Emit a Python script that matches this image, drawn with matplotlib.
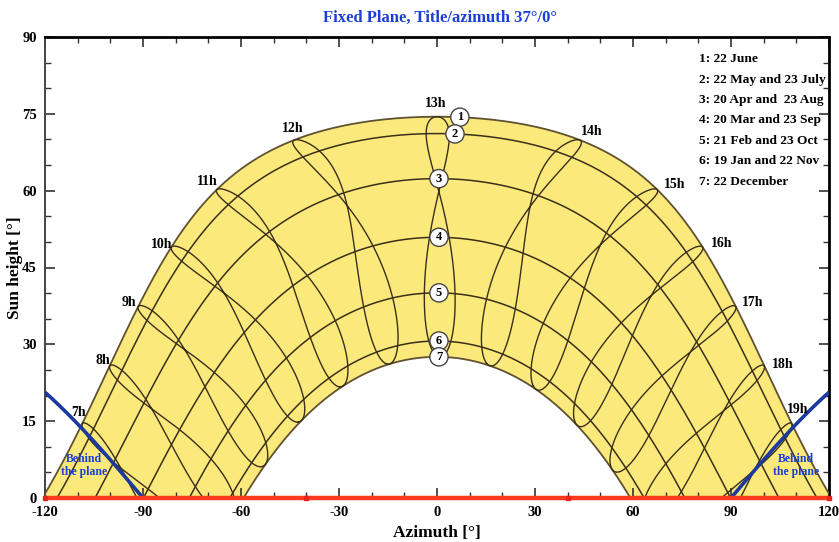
import numpy as np
import matplotlib
matplotlib.use("Agg")
import matplotlib.pyplot as plt

plt.rcParams["axes.unicode_minus"] = False

# Site and plane
LATITUDE = 39.0          # deg N
PLANE_TILT = 37.0        # deg
PLANE_AZIMUTH = 0.0      # deg from south
CLOCK_SHIFT_H = 0.97     # clock time minus local mean solar time, hours

# Dates of the sun paths (in calendar order)
DATES = ["19 Jan", "21 Feb", "20 Mar", "20 Apr", "22 May", "22 June",
         "23 July", "23 Aug", "23 Sep", "23 Oct", "22 Nov", "22 December"]
DAY_OF_YEAR = [19, 52, 79, 110, 142, 173, 204, 235, 266, 296, 326, 356]
DECLINATION = [-20.6, -10.6, -0.1, 11.5, 20.3, 23.44,
               20.0, 11.2, -0.1, -11.3, -20.1, -23.44]
EQ_OF_TIME_MIN = [-10.6, -13.8, -7.6, 1.1, 3.3, -1.8,
                  -6.4, -2.6, 7.6, 15.6, 14.0, 1.7]
CURVE_NO = [6, 5, 4, 3, 2, 1, 2, 3, 4, 5, 6, 7]

HOURS = list(range(7, 20))
LEGEND_LINES = ["1: 22 June", "2: 22 May and 23 July", "3: 20 Apr and  23 Aug",
                "4: 20 Mar and 23 Sep", "5: 21 Feb and 23 Oct",
                "6: 19 Jan and 22 Nov", "7: 22 December"]

X_TICKS = [-120, -90, -60, -30, 0, 30, 60, 90, 120]
Y_TICKS = [0, 15, 30, 45, 60, 75, 90]

SERIF = "Liberation Serif"
FILL = "#fce97c"
INK = "#3a2f18"
BLUE = "#1a3fd6"


def sun_position(decl, hour_angle):
    phi = np.radians(LATITUDE)
    d = np.radians(decl)
    h = np.radians(hour_angle)
    alt = np.degrees(np.arcsin(np.sin(phi) * np.sin(d)
                               + np.cos(phi) * np.cos(d) * np.cos(h)))
    az = np.degrees(np.arctan2(np.sin(h),
                               np.cos(h) * np.sin(phi) - np.tan(d) * np.cos(phi)))
    return az, alt


def hour_angle(clock_hour, eot_min):
    return 15.0 * (clock_hour - CLOCK_SHIFT_H + np.asarray(eot_min) / 60.0 - 12.0)


def day_path(decl):
    phi = np.radians(LATITUDE)
    h0 = np.degrees(np.arccos(-np.tan(phi) * np.tan(np.radians(decl))))
    return sun_position(decl, np.linspace(-h0, h0, 800))


def periodic_basis(day):
    w = 2 * np.pi * np.asarray(day, float) / 365.0
    cols = [np.ones_like(w)]
    for k in range(1, 6):
        cols += [np.cos(k * w), np.sin(k * w)]
    cols.append(np.cos(6 * w))
    return np.column_stack(cols)


def smooth_year(values, day_fine):
    coef = np.linalg.solve(periodic_basis(DAY_OF_YEAR), np.asarray(values, float))
    return periodic_basis(day_fine) @ coef


decl = np.array(DECLINATION)
eot = np.array(EQ_OF_TIME_MIN)
curve_no = np.array(CURVE_NO)
levels = sorted(set(CURVE_NO))
level_decl = {k: decl[curve_no == k].mean() for k in levels}

fig = plt.figure(figsize=(8.39, 5.42), dpi=100)
ax = fig.add_axes([45 / 839, 1 - 498 / 542, (829 - 45) / 839, (498 - 37) / 542])

# Band between the summer and winter solstice paths
ja, jh = day_path(level_decl[1])
da, dh = day_path(level_decl[7])
ax.fill(np.r_[ja, da[::-1]], np.r_[jh, dh[::-1]], color=FILL, lw=0, zorder=1)

# Daily sun paths
for k in levels:
    a, h = day_path(level_decl[k])
    edge = k in (1, 7)
    ax.plot(a, h, color="#5f5230" if edge else INK, lw=1.3 if edge else 1.1, zorder=3)

# Hour lines (analemmas): a closed smooth path through the dates of the year
day_fine = np.linspace(0, 365, 731)
path_decl = np.clip(smooth_year(decl, day_fine), -23.44, 23.44)
path_eot = smooth_year(eot, day_fine)
for hr in HOURS:
    a, h = sun_position(path_decl, hour_angle(hr, path_eot))
    h = np.where(h < 0, np.nan, h)
    ax.plot(a, h, color=INK, lw=1.0, zorder=3)

# Hour labels next to the 22 June positions
june = DATES.index("22 June")
label_offsets = {7: (-4, 11), 8: (-7, 5), 9: (-9, 4), 10: (-10, 3), 11: (-9, 8),
                 12: (-2, 11), 13: (-1, 13), 14: (12, 8), 15: (18, 5), 16: (19, 4),
                 17: (17, 4), 18: (18, 1), 19: (6, 14)}
for hr in HOURS:
    a, h = sun_position(decl[june], hour_angle(hr, eot[june]))
    ax.annotate(f"{hr}h", (a, h), xytext=label_offsets[hr], textcoords="offset pixels",
                ha="center", va="center", fontsize=10, fontweight="bold",
                family=SERIF, color="black", zorder=6)

# Numbered markers on the paths near the meridian
marker_az = {1: 7.0, 2: 5.5, 3: 0.6, 4: 0.6, 5: 0.6, 6: 0.6, 7: 0.6}
for k in levels:
    a, h = day_path(level_decl[k])
    y = np.interp(marker_az[k], a, h)
    ax.text(marker_az[k], y, str(k), ha="center", va="center", fontsize=9,
            fontweight="bold", family=SERIF, zorder=7,
            bbox=dict(boxstyle="circle,pad=0.25", fc="white", ec="#444444", lw=1.0))

# Limit beyond which the sun is behind the tilted plane
for lo, hi in ((-120, -90), (90, 120)):
    az = np.linspace(lo, hi, 60)
    alt = np.degrees(np.arctan(-np.tan(np.radians(PLANE_TILT))
                               * np.cos(np.radians(az - PLANE_AZIMUTH))))
    ax.plot(az, alt, color="#1c3a9e", lw=2.6, zorder=5, solid_capstyle="butt")
for x in (-108, 110):
    ax.text(x, 6.3, "Behind\nthe plane", ha="center", va="center", fontsize=8.5,
            fontweight="bold", family=SERIF, color=BLUE, linespacing=1.1, zorder=6)

# Horizon line
ax.plot([-120, 120], [0, 0], color="#ff3b1f", lw=3.2, zorder=6, clip_on=False,
        solid_capstyle="butt")
ax.plot([-120, -40, 40, 120], [0, 0, 0, 0], ls="none", marker="s", ms=3.5,
        color="#e8231a", zorder=7, clip_on=False)

# Legend text
for i, line in enumerate(LEGEND_LINES):
    fig.text(699 / 839, 1 - (59 + i * 20.5) / 542, line, ha="left", va="center",
             fontsize=9.6, fontweight="bold", family=SERIF)

ax.set_xlim(-120, 120)
ax.set_ylim(0, 90)
ax.set_xticks(X_TICKS)
ax.set_yticks(Y_TICKS)
ax.set_xticks(np.arange(-120, 121, 10), minor=True)
ax.set_yticks(np.arange(0, 91, 5), minor=True)
ax.tick_params(which="both", direction="in", top=True, right=True, colors="#333333",
               labelcolor="black")
ax.tick_params(which="major", length=7, width=1.2, pad=6)
ax.tick_params(which="minor", length=4, width=1.0)
for lab in ax.get_xticklabels() + ax.get_yticklabels():
    lab.set_fontfamily(SERIF)
    lab.set_fontweight("bold")
    lab.set_fontsize(10.5)
ax.set_xlabel("Azimuth [°]", fontsize=12.5, fontweight="bold", family=SERIF, labelpad=4)
ax.set_ylabel("Sun height [°]", fontsize=12.5, fontweight="bold", family=SERIF)
ax.yaxis.set_label_coords(-22 / 784, 0.5)

for side in ("top", "right"):
    ax.spines[side].set_linewidth(2.0)
    ax.spines[side].set_color("black")
ax.spines["left"].set_linewidth(1.4)
ax.spines["left"].set_color("#444444")
ax.spines["bottom"].set_visible(False)

fig.text(440 / 839, 1 - 18 / 542, "Fixed Plane, Title/azimuth 37°/0°", ha="center",
         va="center", fontsize=12, fontweight="bold", family=SERIF, color=BLUE)

fig.savefig("out.png", dpi=100)
